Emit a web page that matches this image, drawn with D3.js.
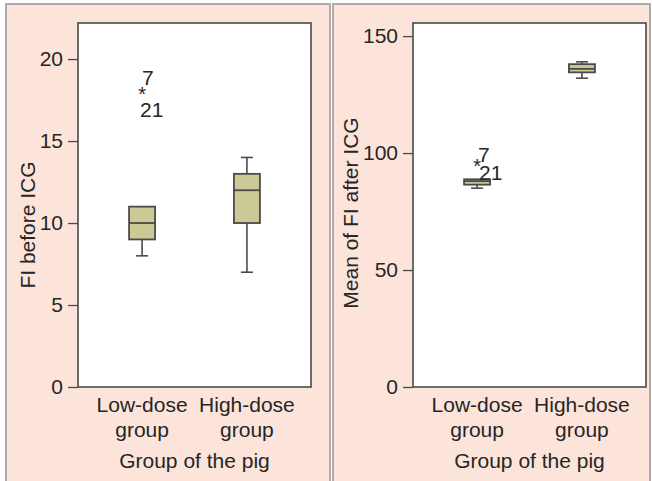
<!DOCTYPE html>
<html lang="en">
<head>
  <meta charset="UTF-8">
  <title>FI boxplots</title>
  <script src="https://d3js.org/d3.v7.min.js"></script>
  <style>
    body { margin: 0; background: #fff; }
    text { font-family: "Liberation Sans", Arial, sans-serif; fill: #262626; }
  </style>
</head>
<body>
<script>
  // grupos (eixo x)
  const groups = ["Low-dose", "High-dose"];
  const xTitle = "Group of the pig";

  // FI antes do ICG
  const beforeStats = [
    { lo: 8, q1: 9, median: 10, q3: 11, hi: 11 },
    { lo: 7, q1: 10, median: 12, q3: 13, hi: 14 }
  ];
  const beforeOutliers = [{ group: "Low-dose", value: 18, labels: ["7", "21"] }];
  const beforeTicks = [0, 5, 10, 15, 20];

  // média do FI depois do ICG
  const afterStats = [
    { lo: 85, q1: 86.5, median: 88, q3: 88.8, hi: 88.8 },
    { lo: 132, q1: 134.5, median: 136, q3: 138, hi: 139 }
  ];
  const afterOutliers = [{ group: "Low-dose", value: 95.5, labels: ["7", "21"] }];
  const afterTicks = [0, 50, 100, 150];

  const svg = d3.select("body").append("svg")
    .attr("width", 652)
    .attr("height", 481);

  function boxPanel(opt) {
    const g = svg.append("g");

    // fundo rosa do painel
    g.append("rect")
      .attr("x", opt.panel[0]).attr("y", 4)
      .attr("width", opt.panel[1]).attr("height", 482)
      .attr("fill", "#fce4da")
      .attr("stroke", "#b0aaa8")
      .attr("stroke-width", 2);

    const x = d3.scalePoint()
      .domain(groups)
      .range([opt.left, opt.right])
      .padding(0.611);

    const y = d3.scaleLinear()
      .domain([0, opt.max])
      .range([387, 23]);

    g.append("rect")
      .attr("x", opt.left).attr("y", 23)
      .attr("width", opt.right - opt.left).attr("height", 364)
      .attr("fill", "#fff")
      .attr("stroke", "#4a4a4a")
      .attr("stroke-width", 1.6);

    // eixo y
    const ax = g.append("g")
      .attr("transform", `translate(${opt.left},0)`)
      .call(d3.axisLeft(y).tickValues(opt.ticks).tickSize(10).tickPadding(5));
    ax.select(".domain").remove();
    ax.selectAll("line").attr("stroke", "#4a4a4a").attr("stroke-width", 1.3);
    ax.selectAll("text")
      .style("font-size", "21px")
      .attr("fill", "#262626")
      .attr("font-family", null);

    const bw = 26, cw = 12;
    const boxes = g.selectAll("g.box")
      .data(opt.stats)
      .enter().append("g")
      .attr("class", "box")
      .attr("transform", (d, i) => `translate(${x(groups[i])},0)`);

    boxes.append("line")
      .attr("y1", d => y(d.hi)).attr("y2", d => y(d.q3))
      .attr("stroke", "#4a4a4a").attr("stroke-width", 1.6);
    boxes.append("line")
      .attr("y1", d => y(d.q1)).attr("y2", d => y(d.lo))
      .attr("stroke", "#4a4a4a").attr("stroke-width", 1.6);
    boxes.filter(d => d.hi > d.q3).append("line")
      .attr("x1", -cw / 2).attr("x2", cw / 2)
      .attr("y1", d => y(d.hi)).attr("y2", d => y(d.hi))
      .attr("stroke", "#4a4a4a").attr("stroke-width", 1.6);
    boxes.append("line")
      .attr("x1", -cw / 2).attr("x2", cw / 2)
      .attr("y1", d => y(d.lo)).attr("y2", d => y(d.lo))
      .attr("stroke", "#4a4a4a").attr("stroke-width", 1.6);
    boxes.append("rect")
      .attr("x", -bw / 2).attr("width", bw)
      .attr("y", d => y(d.q3))
      .attr("height", d => y(d.q1) - y(d.q3))
      .attr("fill", "#cbca97")
      .attr("stroke", "#4a4a4a").attr("stroke-width", 1.8);
    boxes.append("line")
      .attr("x1", -bw / 2).attr("x2", bw / 2)
      .attr("y1", d => y(d.median)).attr("y2", d => y(d.median))
      .attr("stroke", "#4a4a4a").attr("stroke-width", 1.8);

    // outliers (*) com os números dos casos
    opt.outliers.forEach(o => {
      const cx = x(o.group), cy = y(o.value);
      g.append("text")
        .attr("x", cx).attr("y", cy + 9)
        .attr("text-anchor", "middle")
        .style("font-size", "20px")
        .text("*");
      g.append("text")
        .attr("x", cx + opt.lab[0]).attr("y", cy + opt.lab[1])
        .style("font-size", "21px")
        .text(o.labels[0]);
      g.append("text")
        .attr("x", cx + opt.lab[2]).attr("y", cy + opt.lab[3])
        .style("font-size", "21px")
        .text(o.labels[1]);
    });

    // rótulos do eixo x
    groups.forEach(grp => {
      g.append("text")
        .attr("x", x(grp)).attr("y", 412)
        .attr("text-anchor", "middle")
        .style("font-size", "21px")
        .text(grp);
      g.append("text")
        .attr("x", x(grp)).attr("y", 437)
        .attr("text-anchor", "middle")
        .style("font-size", "21px")
        .text("group");
    });

    g.append("text")
      .attr("x", (opt.left + opt.right) / 2).attr("y", 468)
      .attr("text-anchor", "middle")
      .style("font-size", "21px")
      .text(xTitle);

    g.append("text")
      .attr("transform", `translate(${opt.yLab[0]},${opt.yLab[1]}) rotate(-90)`)
      .attr("text-anchor", "middle")
      .style("font-size", "21px")
      .text(opt.yTitle);
  }

  boxPanel({
    panel: [6, 324], left: 78, right: 311, max: 22.2,
    stats: beforeStats, outliers: beforeOutliers, ticks: beforeTicks,
    lab: [0, -7, -2, 25], yLab: [35, 225], yTitle: "FI before ICG"
  });

  boxPanel({
    panel: [333, 317], left: 413, right: 646, max: 155.6,
    stats: afterStats, outliers: afterOutliers, ticks: afterTicks,
    lab: [1, -2, 2, 16], yLab: [358, 213], yTitle: "Mean of FI after ICG"
  });
</script>
</body>
</html>
